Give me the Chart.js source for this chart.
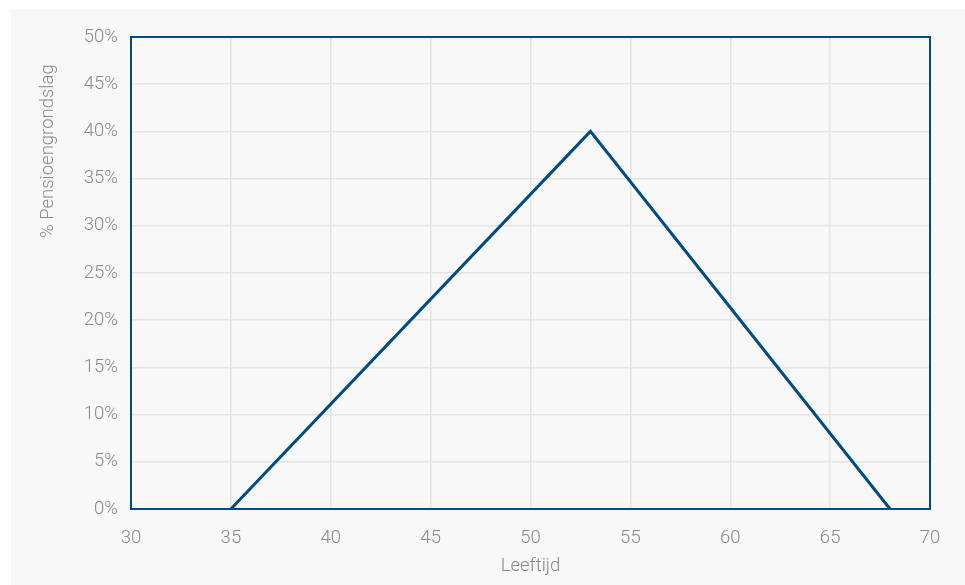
<!DOCTYPE html>
<html>
<head>
<meta charset="utf-8">
<script src="https://cdn.jsdelivr.net/npm/chart.js@4"></script>
<style>
  html, body { margin: 0; padding: 0; background: #ffffff; }
  #panel { position: absolute; left: 11px; top: 9px; width: 954px; height: 576px; background: #f8f8f8; }
</style>
</head>
<body>
<div id="panel"><canvas id="chart" width="954" height="576"></canvas></div>
<script>
// leeftijd (x) en percentage pensioengrondslag (y)
const leeftijd = [35, 53, 68];
const percentage = [0, 40, 0];
const xTicks = [30, 35, 40, 45, 50, 55, 60, 65, 70];
const yTicks = [0, 5, 10, 15, 20, 25, 30, 35, 40, 45, 50];
const yTitel = "% Pensioengrondslag";

const LIJN = "#004b80";
const TEKST = "#8a8a8a";
const RASTER = "#e4e4e4";

const font = { family: "Roboto, 'Liberation Sans', Arial, sans-serif", size: 18.5, weight: 300 };

// kader rond het plotgebied + y-titel (staat in het origineel hoger dan het midden)
const kader = {
  id: "kader",
  afterDatasetsDraw(chart) {
    const { ctx, chartArea: a } = chart;
    ctx.save();
    ctx.strokeStyle = LIJN;
    ctx.lineWidth = 2;
    ctx.strokeRect(a.left, a.top, a.right - a.left, a.bottom - a.top);
    ctx.restore();

    ctx.save();
    ctx.translate(37, a.top + 201);
    ctx.rotate(-Math.PI / 2);
    ctx.font = `${font.weight} ${font.size}px ${font.family}`;
    ctx.fillStyle = TEKST;
    ctx.textAlign = "left";
    ctx.textBaseline = "middle";
    ctx.fillText(yTitel, 0, 0);
    ctx.restore();
  }
};

new Chart(document.getElementById("chart"), {
  type: "line",
  data: {
    datasets: [{
      data: leeftijd.map((x, i) => ({ x, y: percentage[i] })),
      borderColor: LIJN,
      borderWidth: 3,
      pointRadius: 0,
      tension: 0,
      clip: false
    }]
  },
  options: {
    responsive: false,
    animation: false,
    layout: { padding: { top: 28, right: 35, left: 0, bottom: 0 } },
    plugins: { legend: { display: false }, tooltip: { enabled: false } },
    scales: {
      x: {
        type: "linear",
        min: 30, max: 70,
        afterBuildTicks(s) { s.ticks = xTicks.map(v => ({ value: v })); },
        afterFit(s) { s.height = 76; },
        grid: { color: RASTER, lineWidth: 1.5, drawTicks: false },
        border: { display: false },
        ticks: { color: TEKST, font, padding: 18, maxRotation: 0 },
        title: { display: true, text: "Leeftijd", color: TEKST, font, padding: { top: 0, bottom: 8 } }
      },
      y: {
        min: 0, max: 50,
        afterBuildTicks(s) { s.ticks = yTicks.map(v => ({ value: v })); },
        afterFit(s) { s.width = 120; },
        grid: { color: RASTER, lineWidth: 1.5, drawTicks: false },
        border: { display: false },
        ticks: { color: TEKST, font, padding: 13, callback: v => v + "%" },
        title: { display: false }
      }
    }
  },
  plugins: [kader]
});
</script>
</body>
</html>
